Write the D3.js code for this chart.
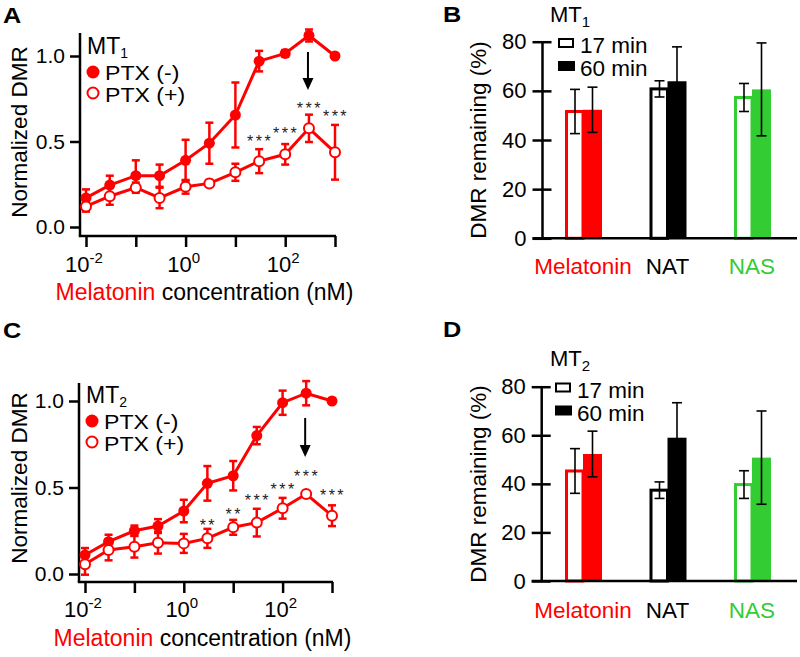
<!DOCTYPE html>
<html>
<head>
<meta charset="utf-8">
<script src="https://cdn.jsdelivr.net/npm/d3@7"></script>
<style>
  html, body { margin: 0; padding: 0; background: #fff; }
  svg text { font-family: "Liberation Sans", Arial, sans-serif; }
</style>
</head>
<body>
<svg id="chart" width="800" height="657"></svg>
<script>
// ---------------- DATA ----------------
const concentrations = [0.01, 0.03, 0.1, 0.3, 1, 3, 10, 30, 100, 300, 1000];

const mt1PtxMinus    = [0.17, 0.245, 0.30, 0.30, 0.39, 0.49, 0.655, 0.97, 1.015, 1.12, 1.00];
const mt1PtxMinusErr = [0.05, 0.055, 0.09, 0.065, 0.12, 0.12, 0.19, 0.06, 0.02, 0.035, 0.0];
const mt1PtxPlus     = [0.12, 0.18, 0.23, 0.17, 0.235, 0.255, 0.32, 0.385, 0.425, 0.577, 0.437];
const mt1PtxPlusErr  = [0.03, 0.05, 0.03, 0.06, 0.04, 0.02, 0.05, 0.07, 0.06, 0.08, 0.16];

const mt2PtxMinus    = [0.11, 0.187, 0.25, 0.277, 0.364, 0.524, 0.568, 0.80, 0.99, 1.045, 1.00];
const mt2PtxMinusErr = [0.04, 0.04, 0.03, 0.04, 0.065, 0.10, 0.085, 0.05, 0.07, 0.07, 0.0];
const mt2PtxPlus     = [0.056, 0.139, 0.158, 0.181, 0.177, 0.206, 0.27, 0.297, 0.38, 0.462, 0.337];
const mt2PtxPlusErr  = [0.06, 0.06, 0.063, 0.063, 0.055, 0.055, 0.043, 0.08, 0.06, 0.0, 0.06];

const mt1Stars = [{c: 30, s: "***"}, {c: 100, s: "***"}, {c: 300, s: "***"}, {c: 1000, s: "***"}];
const mt2Stars = [{c: 3, s: "**"}, {c: 10, s: "**"}, {c: 30, s: "***"}, {c: 100, s: "***"}, {c: 300, s: "***"}, {c: 1000, s: "***"}];
const arrowConcentration = 300;

const xTickValues = [0.01, 0.1, 1, 10, 100, 1000];
const xTickLabels = [{v: 0.01, base: "10", exp: "-2"}, {v: 1, base: "10", exp: "0"}, {v: 100, base: "10", exp: "2"}];
const doseYTicks = [0, 0.5, 1.0];
const doseLegend = ["PTX (-)", "PTX (+)"];

const barCategories = ["Melatonin", "NAT", "NAS"];
const barColors = ["#ff0000", "#000000", "#33cc33"];
const mt1Min17    = [51.6, 60.8, 57.3];
const mt1Min17Err = [9.0, 3.3, 5.7];
const mt1Min60    = [52.3, 63.9, 60.6];
const mt1Min60Err = [9.2, 14.0, 18.9];
const mt2Min17    = [45.3, 37.4, 39.7];
const mt2Min17Err = [9.2, 3.4, 5.7];
const mt2Min60    = [52.3, 59.0, 50.8];
const mt2Min60Err = [9.4, 14.4, 19.2];
const barYTicks = [0, 20, 40, 60, 80];
const barLegend = ["17 min", "60 min"];

// ---------------- DRAWING ----------------
const svg = d3.select("#chart");
const RED = "#ff0000";
const TICK_FONT = 21;
const FONT = 22.5;

function panelLabel(t, x, y) {
  svg.append("text").attr("transform", `translate(${x},${y}) scale(1.15,1)`)
    .attr("font-size", 22).attr("font-weight", "bold").text(t);
}

function drawDose(cfg) {
  const g = svg.append("g");
  const x = d3.scaleLog().domain([0.01, 1000]).range([cfg.x0, cfg.x1]);
  const y = d3.scaleLinear().domain([0, 1]).range([cfg.y0, cfg.y1]);

  // axes
  g.append("line").attr("x1", cfg.ax).attr("x2", cfg.ax)
    .attr("y1", cfg.axTop).attr("y2", cfg.axBottom)
    .attr("stroke", "#000").attr("stroke-width", 2.5);
  g.append("line").attr("x1", cfg.ax - 1.2).attr("x2", cfg.x1 + 1)
    .attr("y1", cfg.axBottom).attr("y2", cfg.axBottom)
    .attr("stroke", "#000").attr("stroke-width", 2.5);

  const ya = g.append("g").attr("transform", `translate(${cfg.ax},0)`)
    .call(d3.axisLeft(y).tickValues(doseYTicks).tickSize(10).tickPadding(5).tickFormat(d3.format(".1f")));
  ya.select(".domain").remove();
  ya.selectAll(".tick line").attr("stroke-width", 2.5);
  ya.selectAll(".tick text").attr("font-size", TICK_FONT).attr("font-family", "Liberation Sans, Arial, sans-serif").attr("fill", "#000");

  const xa = g.append("g").attr("transform", `translate(0,${cfg.axBottom})`)
    .call(d3.axisBottom(x).tickValues(xTickValues).tickSize(11).tickFormat(""));
  xa.select(".domain").remove();
  xa.selectAll(".tick line").attr("stroke-width", 2.5);

  xTickLabels.forEach(l => {
    const t = g.append("text").attr("x", x(l.v) - 2).attr("y", cfg.tickBase)
      .attr("text-anchor", "middle").attr("font-size", TICK_FONT + 1).text(l.base);
    t.append("tspan").attr("font-size", 15).attr("dy", -9).text(l.exp);
  });

  // axis titles
  const xt = g.append("text").attr("x", (cfg.ax + cfg.x1) / 2 - 3).attr("y", cfg.titleBase)
    .attr("text-anchor", "middle").attr("font-size", FONT + 0.5);
  xt.append("tspan").attr("fill", RED).text("Melatonin");
  xt.append("tspan").attr("fill", "#000").text(" concentration (nM)");

  g.append("text").attr("transform", `translate(${cfg.ylabX},${cfg.ylabY}) rotate(-90)`)
    .attr("text-anchor", "middle").attr("font-size", FONT).text("Normalized DMR");

  // series
  function series(vals, errs, filled) {
    const pts = concentrations.map((c, i) => ({c, v: vals[i], e: errs[i]}));
    g.append("path").datum(pts)
      .attr("d", d3.line().x(d => x(d.c)).y(d => y(d.v)))
      .attr("fill", "none").attr("stroke", RED).attr("stroke-width", 3);
    const eb = g.append("g").selectAll("g").data(pts.filter(d => d.e > 0)).join("g");
    eb.append("line").attr("x1", d => x(d.c)).attr("x2", d => x(d.c))
      .attr("y1", d => y(d.v - d.e)).attr("y2", d => y(d.v + d.e))
      .attr("stroke", RED).attr("stroke-width", 2.5);
    [-1, 1].forEach(s => {
      eb.append("line").attr("x1", d => x(d.c) - 4).attr("x2", d => x(d.c) + 4)
        .attr("y1", d => y(d.v + s * d.e)).attr("y2", d => y(d.v + s * d.e))
        .attr("stroke", RED).attr("stroke-width", 2.5);
    });
    g.append("g").selectAll("circle").data(pts).join("circle")
      .attr("cx", d => x(d.c)).attr("cy", d => y(d.v))
      .attr("r", filled ? 5.5 : 5)
      .attr("fill", filled ? RED : "#fff")
      .attr("stroke", RED).attr("stroke-width", filled ? 0 : 2);
  }
  series(cfg.minus, cfg.minusErr, true);
  series(cfg.plus, cfg.plusErr, false);

  // significance stars
  cfg.stars.forEach((s, i) => {
    g.append("text").attr("x", x(s.c) + 1).attr("y", cfg.starY[i] + 9)
      .attr("text-anchor", "middle").attr("font-size", 16).attr("letter-spacing", 2.5)
      .attr("fill", "#222").text(s.s);
  });

  // arrow
  const ax = x(arrowConcentration) - 1;
  g.append("line").attr("x1", ax).attr("x2", ax).attr("y1", cfg.arrowTop).attr("y2", cfg.arrowBottom - 8)
    .attr("stroke", "#000").attr("stroke-width", 2);
  g.append("path").attr("d", `M${ax - 5.5},${cfg.arrowBottom - 12} L${ax + 5.5},${cfg.arrowBottom - 12} L${ax},${cfg.arrowBottom} Z`)
    .attr("fill", "#000");

  // legend
  const mt = g.append("text").attr("x", cfg.legX).attr("y", cfg.legY).attr("font-size", 23).text("MT");
  mt.append("tspan").attr("font-size", 14).attr("dy", 4).text(cfg.sub);
  g.append("circle").attr("cx", cfg.legX + 6).attr("cy", cfg.legY + 18).attr("r", 6.5).attr("fill", RED);
  g.append("circle").attr("cx", cfg.legX + 6).attr("cy", cfg.legY + 39).attr("r", 5.5)
    .attr("fill", "#fff").attr("stroke", RED).attr("stroke-width", 2);
  doseLegend.forEach((t, i) => {
    g.append("text").attr("transform", `translate(${cfg.legX + 18},${cfg.legY + 26 + 22 * i}) scale(1.1,1)`)
      .attr("font-size", 21).text(t);
  });
}

function drawBars(cfg) {
  const g = svg.append("g");
  const y = d3.scaleLinear().domain([0, 80]).range([cfg.y0, cfg.y80]);
  const xc = d3.scalePoint().domain(barCategories).range([cfg.c0, cfg.c1]);
  const bw = 18;

  // bars
  barCategories.forEach((cat, i) => {
    const c = xc(cat);
    g.append("rect").attr("x", c - bw + 1.5).attr("y", y(cfg.m17[i]))
      .attr("width", bw - 1.5).attr("height", y(0) - y(cfg.m17[i]))
      .attr("fill", "#fff").attr("stroke", barColors[i]).attr("stroke-width", 3);
    g.append("rect").attr("x", c).attr("y", y(cfg.m60[i]))
      .attr("width", bw + 1).attr("height", y(0) - y(cfg.m60[i]))
      .attr("fill", barColors[i]);
  });
  // error bars
  function ebar(cx, v, e) {
    g.append("line").attr("x1", cx).attr("x2", cx).attr("y1", y(v - e)).attr("y2", y(v + e))
      .attr("stroke", "#000").attr("stroke-width", 1.6);
    [-1, 1].forEach(s => g.append("line").attr("x1", cx - 5).attr("x2", cx + 5)
      .attr("y1", y(v + s * e)).attr("y2", y(v + s * e)).attr("stroke", "#000").attr("stroke-width", 1.6));
  }
  barCategories.forEach((cat, i) => {
    const c = xc(cat);
    ebar(c - 8, cfg.m17[i], cfg.e17[i]);
    ebar(c + 9.5, cfg.m60[i], cfg.e60[i]);
  });

  // axes
  g.append("line").attr("x1", cfg.ax).attr("x2", cfg.ax).attr("y1", y(80)).attr("y2", y(0))
    .attr("stroke", "#000").attr("stroke-width", 2.5);
  g.append("line").attr("x1", cfg.ax - 10).attr("x2", cfg.xEnd).attr("y1", y(0)).attr("y2", y(0))
    .attr("stroke", "#000").attr("stroke-width", 2.5);
  const ya = g.append("g").attr("transform", `translate(${cfg.ax},0)`)
    .call(d3.axisLeft(y).tickValues(barYTicks).tickSize(10).tickPadding(6));
  ya.select(".domain").remove();
  ya.selectAll(".tick line").attr("x1", 9).attr("stroke-width", 2.5);
  ya.selectAll(".tick text").attr("font-size", TICK_FONT + 1).attr("font-family", "Liberation Sans, Arial, sans-serif").attr("fill", "#000");

  // category labels
  barCategories.forEach((cat, i) => {
    g.append("text").attr("x", xc(cat)).attr("y", cfg.catBase).attr("text-anchor", "middle")
      .attr("font-size", FONT).attr("fill", barColors[i]).text(cat);
  });

  g.append("text").attr("transform", `translate(${cfg.ylabX},${cfg.ylabY}) rotate(-90)`)
    .attr("text-anchor", "middle").attr("font-size", FONT).text("DMR remaining (%)");

  // legend
  const mt = g.append("text").attr("x", cfg.mtX).attr("y", cfg.mtY).attr("font-size", 22).text("MT");
  mt.append("tspan").attr("font-size", 15).attr("dy", 5).text(cfg.sub);
  g.append("rect").attr("x", cfg.legX + 1).attr("y", cfg.legY).attr("width", 14).attr("height", 8)
    .attr("fill", "#fff").attr("stroke", "#000").attr("stroke-width", 2);
  g.append("rect").attr("x", cfg.legX).attr("y", cfg.legY + 22).attr("width", 17).attr("height", 10)
    .attr("fill", "#000");
  barLegend.forEach((t, i) => {
    g.append("text").attr("x", cfg.legX + 22).attr("y", cfg.legY + 14 + 23 * i)
      .attr("font-size", FONT).text(t);
  });
}

// Panel A
panelLabel("A", 3, 23);
drawDose({
  x0: 86, x1: 335, y0: 227, y1: 56, ax: 80, axTop: 33, axBottom: 236,
  tickBase: 272, titleBase: 300, ylabX: 27, ylabY: 132,
  minus: mt1PtxMinus, minusErr: mt1PtxMinusErr, plus: mt1PtxPlus, plusErr: mt1PtxPlusErr,
  stars: mt1Stars, starY: [138, 130, 105, 113],
  arrowTop: 52, arrowBottom: 90,
  legX: 87, legY: 54, sub: "1"
});

// Panel C
panelLabel("C", 3, 338);
drawDose({
  x0: 85, x1: 332, y0: 574, y1: 401, ax: 79, axTop: 383, axBottom: 582,
  tickBase: 617, titleBase: 646, ylabX: 27, ylabY: 478,
  minus: mt2PtxMinus, minusErr: mt2PtxMinusErr, plus: mt2PtxPlus, plusErr: mt2PtxPlusErr,
  stars: mt2Stars, starY: [521.5, 511, 497, 486, 473, 491.5],
  arrowTop: 418, arrowBottom: 457,
  legX: 86, legY: 403, sub: "2"
});

// Panel B
panelLabel("B", 443, 22);
drawBars({
  y0: 238.3, y80: 41.7, c0: 583, c1: 752, ax: 542.5, xEnd: 797,
  m17: mt1Min17, e17: mt1Min17Err, m60: mt1Min60, e60: mt1Min60Err,
  catBase: 274, ylabX: 486, ylabY: 140,
  mtX: 550, mtY: 22, sub: "1", legX: 558, legY: 39
});

// Panel D
panelLabel("D", 443, 337);
drawBars({
  y0: 581, y80: 386.7, c0: 583, c1: 752, ax: 541.7, xEnd: 797,
  m17: mt2Min17, e17: mt2Min17Err, m60: mt2Min60, e60: mt2Min60Err,
  catBase: 618, ylabX: 486, ylabY: 484,
  mtX: 550, mtY: 366, sub: "2", legX: 555, legY: 383.5
});
</script>
</body>
</html>
